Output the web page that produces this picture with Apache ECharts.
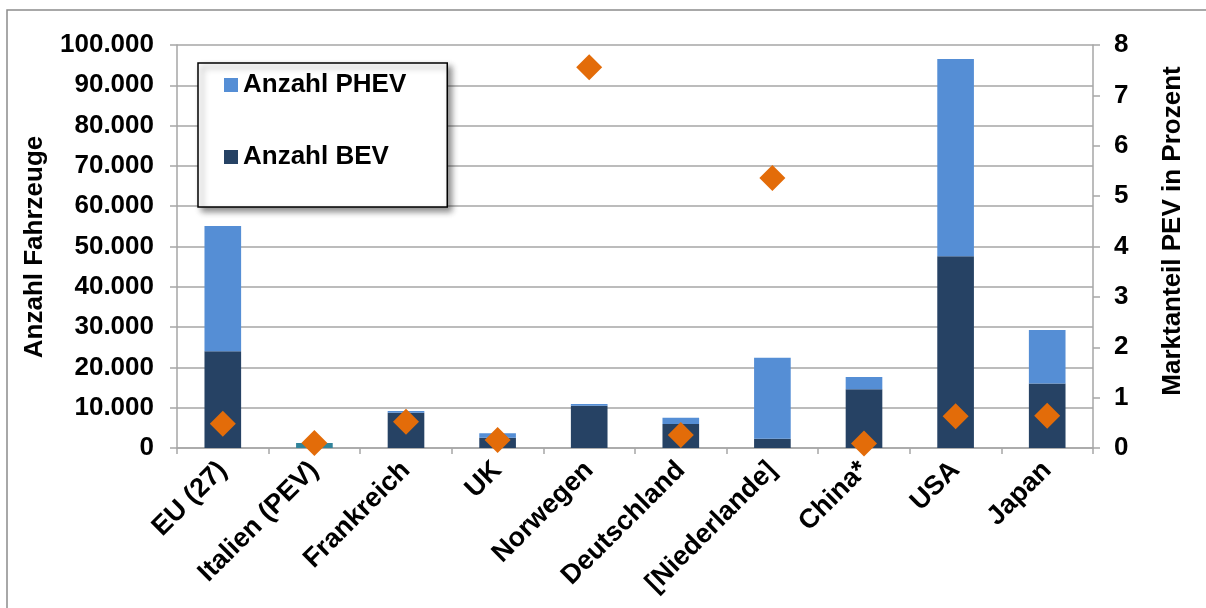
<!DOCTYPE html>
<html>
<head>
<meta charset="utf-8">
<script src="https://cdn.jsdelivr.net/npm/echarts@6/dist/echarts.min.js"></script>
<style>
  html, body { margin: 0; padding: 0; background: #fff; }
  #chart { width: 1206px; height: 608px; }
</style>
</head>
<body>
<div id="chart"></div>
<script>
// Länder / Regionen
const categories = ['EU (27)', 'Italien (PEV)', 'Frankreich', 'UK', 'Norwegen', 'Deutschland', '[Niederlande]', 'China*', 'USA', 'Japan'];
// Anzahl Fahrzeuge je Antriebsart
const bevValues  = [24000, null, 8750, 2550, 10500, 5950, 2300, 14600, 47600, 16000];
const phevValues = [31100, null, 430, 1100, 400, 1570, 20100, 3000, 48900, 13300];
// Italien nur als PEV gesamt ausgewiesen
const pevValues  = [null, 1250, null, null, null, null, null, null, null, null];
// Marktanteil PEV in Prozent
const shareValues = [0.48, 0.10, 0.52, 0.16, 7.56, 0.26, 5.36, 0.09, 0.63, 0.64];

const FONT = '"Liberation Sans", Arial, sans-serif';
const GRID_COLOR = '#a6a6a6';
const FS = 26;

const fmtDE = v => String(v).replace(/\B(?=(\d{3})+(?!\d))/g, '.');

const chart = echarts.init(document.getElementById('chart'), null, { renderer: 'canvas' });

chart.setOption({
  animation: false,
  backgroundColor: '#fff',
  textStyle: { fontFamily: FONT },
  graphic: [{
    type: 'rect',
    shape: { x: 7, y: 10, width: 1230, height: 640 },
    style: { fill: 'none', stroke: '#8c8c8c', lineWidth: 1.5 },
    z: -10
  }, {
    // Achsentitel links
    type: 'text',
    x: 35,
    y: 247,
    rotation: Math.PI / 2,
    style: {
      text: 'Anzahl Fahrzeuge',
      font: 'bold 26px ' + FONT,
      fill: '#000',
      align: 'center',
      verticalAlign: 'middle'
    }
  }, {
    // Achsentitel rechts
    type: 'text',
    x: 1173,
    y: 231,
    rotation: Math.PI / 2,
    style: {
      text: 'Marktanteil PEV in Prozent',
      font: 'bold 26px ' + FONT,
      fill: '#000',
      align: 'center',
      verticalAlign: 'middle'
    }
  }],
  grid: {
    left: 177, right: 113, top: 45, bottom: 160,
    containLabel: false,
    outerBoundsMode: 'none'
  },
  legend: {
    data: ['Anzahl PHEV', 'Anzahl BEV'],
    orient: 'vertical',
    left: 198,
    top: 63,
    padding: [9, 41, 37, 26],
    itemGap: 46,
    itemWidth: 14,
    itemHeight: 14,
    icon: 'rect',
    backgroundColor: '#fff',
    borderColor: '#000',
    borderWidth: 1.5,
    shadowColor: 'rgba(0,0,0,0.45)',
    shadowBlur: 6,
    shadowOffsetX: 4,
    shadowOffsetY: 4,
    textStyle: { fontFamily: FONT, fontSize: FS, fontWeight: 'bold', color: '#000', lineHeight: 26 }
  },
  xAxis: {
    type: 'category',
    data: categories,
    boundaryGap: true,
    axisLine: { lineStyle: { color: GRID_COLOR, width: 1.5 } },
    axisTick: { show: true, length: 6, alignWithLabel: false, lineStyle: { color: GRID_COLOR, width: 1.5 } },
    axisLabel: {
      rotate: 45,
      margin: 18,
      interval: 0,
      fontFamily: FONT,
      fontSize: 27,
      fontWeight: 'bold',
      color: '#000'
    }
  },
  yAxis: [{
    type: 'value',
    min: 0,
    max: 100000,
    interval: 10000,
    axisLine: { show: true, lineStyle: { color: GRID_COLOR, width: 1.5 } },
    axisTick: { show: true, length: 7, lineStyle: { color: GRID_COLOR, width: 1.5 } },
    splitLine: { show: true, lineStyle: { color: GRID_COLOR, width: 1.5 } },
    axisLabel: {
      margin: 23,
      fontFamily: FONT,
      fontSize: FS,
      fontWeight: 'bold',
      color: '#000',
      formatter: v => fmtDE(v)
    }
  }, {
    type: 'value',
    position: 'right',
    min: 0,
    max: 8,
    interval: 1,
    axisLine: { show: true, lineStyle: { color: GRID_COLOR, width: 1.5 } },
    axisTick: { show: true, length: 7, lineStyle: { color: GRID_COLOR, width: 1.5 } },
    splitLine: { show: false },
    axisLabel: {
      margin: 21,
      fontFamily: FONT,
      fontSize: FS,
      fontWeight: 'bold',
      color: '#000'
    }
  }],
  series: [{
    name: 'Anzahl BEV',
    type: 'bar',
    stack: 'pev',
    barWidth: '40%',
    data: bevValues,
    itemStyle: { color: '#264264' }
  }, {
    name: 'Anzahl PEV',
    type: 'bar',
    stack: 'pev',
    barWidth: '40%',
    data: pevValues,
    itemStyle: { color: '#31849b' }
  }, {
    name: 'Anzahl PHEV',
    type: 'bar',
    stack: 'pev',
    barWidth: '40%',
    data: phevValues,
    itemStyle: { color: '#558ed5' }
  }, {
    name: 'Marktanteil',
    type: 'scatter',
    yAxisIndex: 1,
    symbol: 'diamond',
    symbolSize: [26, 26],
    data: shareValues,
    itemStyle: { color: '#e36c09', opacity: 1 },
    z: 5
  }]
});
</script>
</body>
</html>
